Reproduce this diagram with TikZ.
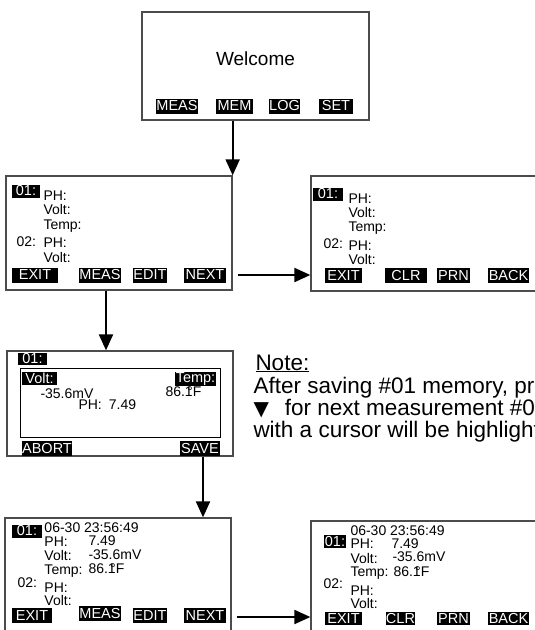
\documentclass[tikz,border=0pt]{standalone}
\usepackage{fontspec}
\setmainfont{Liberation Sans}
\newfontfamily\symfont{DejaVu Sans}
\usetikzlibrary{arrows.meta}

\begin{document}
\begin{tikzpicture}[x=1pt,y=-1pt,line width=1pt,
    screen/.style={draw=black!70,line width=1.3pt,inner sep=0pt},
    key/.style={fill=black,text=white,inner sep=0pt,minimum height=15pt,font=\fontsize{14.5}{14}\selectfont},
    tag/.style={key,minimum height=13pt},
    lbl/.style={anchor=base west,inner sep=0pt,font=\fontsize{14}{14}\selectfont},
    note/.style={anchor=base west,inner sep=0pt,font=\fontsize{22.5}{24}\selectfont},
    flow/.style={line width=2pt,-{Triangle[length=16pt,width=14pt]}}]
    \useasboundingbox (0,0) rectangle (535,630);
    \clip (0,0) rectangle (535,630);

    % welcome screen
    \node[screen,minimum width=227pt,minimum height=108pt] (welcome) at (255.5,66) {};
    \node[anchor=base,inner sep=0pt,font=\fontsize{19}{19}\selectfont] (wtitle) at (255.5,65) {Welcome};
    \foreach \x/\w/\t in {177/40/MEAS,234.5/37/MEM,284.5/31/LOG,336/34/SET}
      \node[key,minimum width=\w pt] (w\t) at (\x,106) {\t};

    % memory list
    \node[screen,minimum width=226pt,minimum height=114pt] (list) at (119,233) {};
    \node[tag,minimum width=28pt] (l01) at (26,191) {01:};
    \node[lbl] (l02) at (16,246) {02:};
    \foreach \y/\t [count=\i] in {200/PH:,214.5/Volt:,229/Temp:,247/PH:,262/Volt:}
      \node[lbl] (lt\i) at (43,\y) {\t};
    \foreach \x/\w/\t in {35/46/EXIT,100/40/MEAS,150/34/EDIT,205/42/NEXT}
      \node[key,minimum width=\w pt] (l\t) at (\x,275) {\t};

    % memory menu
    \node[screen,minimum width=238pt,minimum height=115pt] (listm) at (430,233.5) {};
    \node[tag,minimum width=30pt] (m01) at (328,194) {01:};
    \node[lbl] (m02) at (323,248) {02:};
    \foreach \y/\t [count=\i] in {203/PH:,217/Volt:,231/Temp:,250/PH:,264/Volt:}
      \node[lbl] (mt\i) at (348,\y) {\t};
    \foreach \x/\w/\t in {343.5/37/EXIT,406/42/CLR,453.5/33/PRN,508.5/41/BACK}
      \node[key,minimum width=\w pt] (m\t) at (\x,275.5) {\t};

    % edit screen
    \node[screen,minimum width=226pt,minimum height=105pt] (edit) at (120,403.5) {};
    \node[draw,inner sep=0pt,minimum width=200pt,minimum height=69pt] (panel) at (120,402.5) {};
    \node[tag,minimum width=29pt,minimum height=12pt] (e01) at (32.5,359) {01:};
    \node[tag,minimum width=35pt] (evolt) at (39.5,378.5) {Volt:};
    \node[tag,minimum width=41pt,minimum height=14pt] (etemp) at (195.5,379) {Temp:};
    \node[lbl] (emv) at (40,398) {-35.6mV};
    \node[lbl] (edeg) at (165,396) {86.1\llap{°}F};
    \node[lbl] (eph) at (78,409) {PH:\hspace{7pt}7.49};
    \node[key,minimum width=50pt] (eABORT) at (47,448.5) {ABORT};
    \node[key,minimum width=40pt] (eSAVE) at (200,448.5) {SAVE};

    % saved record
    \node[screen,minimum width=226pt,minimum height=130pt] (saved) at (118,583) {};
    \node[tag,minimum width=30pt] (s01) at (27,531) {01:};
    \node[lbl] (s02) at (17,587) {02:};
    \foreach \y/\t [count=\i] in {546/PH:,560/Volt:,574/Temp:,592/PH:,605/Volt:}
      \node[lbl] (st\i) at (44,\y) {\t};
    \foreach \x/\y/\t [count=\i] in {44/532.5/06-30 23:56:49,88/545.5/7.49,88/559.5/-35.6mV,88/573.5/86.1\llap{°}F}
      \node[lbl] (sv\i) at (\x,\y) {\t};
    \foreach \x/\y/\w/\t in {32/615.5/40/EXIT,100/613/40/MEAS,150/615.5/34/EDIT,205/615.5/42/NEXT}
      \node[key,minimum width=\w pt] (s\t) at (\x,\y) {\t};

    % saved record menu
    \node[screen,minimum width=238pt,minimum height=128pt] (savedm) at (430,585) {};
    \node[tag,minimum width=22pt] (n01) at (335,541.5) {01:};
    \node[lbl] (n02) at (323,588) {02:};
    \foreach \y/\t [count=\i] in {548.5/PH:,563/Volt:,576/Temp:,595/PH:,608/Volt:}
      \node[lbl] (nt\i) at (350,\y) {\t};
    \foreach \x/\y/\t [count=\i] in {350/535.5/06-30 23:56:49,391/548.5/7.49,392/561.5/-35.6mV,393/576/86.1\llap{°}F}
      \node[lbl] (nv\i) at (\x,\y) {\t};
    \foreach \x/\w/\t in {343.5/37/EXIT,400.5/29/CLR,453.5/33/PRN,508.5/41/BACK}
      \node[key,minimum width=\w pt,minimum height=13pt] (n\t) at (\x,618.5) {\t};

    % note
    \node[note] (note) at (255,370) {\underline{Note:}};
    \node[note] (note1) at (253,393) {After saving \#01 memory, press};
    \node[note] (note2) at (253,415) {{\symfont\fontsize{20}{20}\selectfont ▼}\hspace{16pt}for next measurement \#02};
    \node[note] (note3) at (253,437) {with a cursor will be highlighted};

    % connectors
    \coordinate (d1) at (106,0);
    \coordinate (d2) at (203,0);
    \draw[flow] (welcome.south -| list.east) -- (list.north east);
    \draw[flow] ([xshift=5pt]lNEXT.east -| list.east) -- (lNEXT.east -| listm.west);
    \draw[flow] (list.south -| d1) -- (edit.north -| d1);
    \draw[flow] (edit.south -| d2) -- (saved.north -| d2);
    \draw[flow] ([xshift=5pt,yshift=-1.5pt]sNEXT.east -| saved.east) -- ([yshift=-1.5pt]sNEXT.east -| savedm.west);
\end{tikzpicture}
\end{document}
